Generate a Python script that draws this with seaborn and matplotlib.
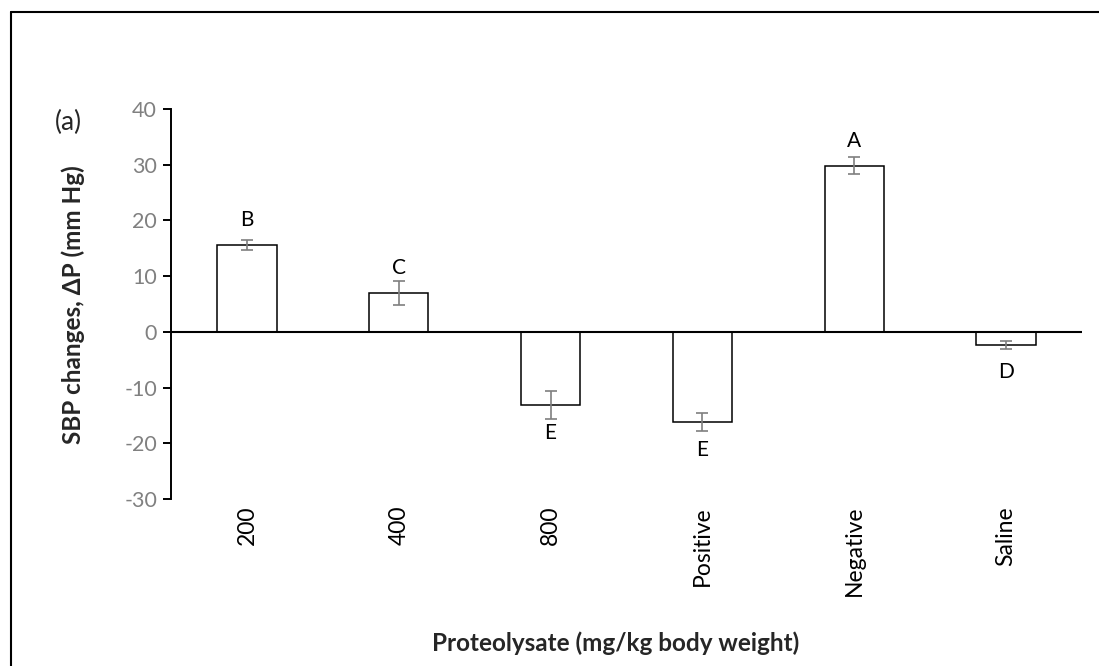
import matplotlib
matplotlib.use("Agg")
import matplotlib.pyplot as plt
import seaborn as sns
import pandas as pd
from matplotlib.lines import Line2D

categories = ["200", "400", "800", "Positive", "Negative", "Saline"]
values = [15.6, 6.9, -13.2, -16.2, 29.8, -2.3]
errors = [0.9, 2.15, 2.5, 1.6, 1.5, 0.7]
letters = ["B", "C", "E", "E", "A", "D"]
yticks = [-30, -20, -10, 0, 10, 20, 30, 40]

sns.set_theme(style="white")
plt.rcParams["font.family"] = ["Lato", "DejaVu Sans"]

fig = plt.figure(figsize=(10.99, 6.66), dpi=100)
ax = fig.add_axes([171 / 1099, 1 - 499 / 666, 911 / 1099, 390 / 666])

df = pd.DataFrame({"cat": categories, "val": values})
sns.barplot(data=df, x="cat", y="val", order=categories, color="white",
            edgecolor="black", linewidth=1.1, width=0.39, errorbar=None,
            saturation=1, ax=ax)
for p in ax.patches:
    p.set_facecolor("white")

xs = list(range(len(categories)))
ax.errorbar(xs, values, yerr=errors, fmt="none", ecolor="#7f7f7f",
            elinewidth=1.2, capsize=4.2, capthick=1.2, zorder=5)

ax.axhline(0, color="black", lw=1.5, zorder=4)

for x, v, lab in zip(xs, values, letters):
    off = 18 if v >= 0 else -20
    ax.annotate(lab, (x, v), xytext=(0, off), textcoords="offset points",
                ha="center", va="center", fontsize=15, color="black")

ax.set_xlim(-0.5, len(categories) - 0.5)
ax.set_ylim(-30, 40)
ax.set_yticks(yticks)
ax.set_yticklabels([str(t) for t in yticks])
ax.tick_params(axis="y", which="major", left=True, length=6, width=1.4,
               color="black", labelcolor="#808080", labelsize=15.5, pad=4)
ax.tick_params(axis="x", length=0, labelsize=16.5, labelcolor="black",
               pad=5, labelrotation=90)
ax.set_xlabel("")
ax.set_ylabel("")
for s in ["top", "right", "bottom"]:
    ax.spines[s].set_visible(False)
ax.spines["left"].set_color("black")
ax.spines["left"].set_linewidth(1.4)

fig.text(73 / 1099, 1 - 305 / 666, "SBP changes, ΔP (mm Hg)", rotation=90,
         ha="center", va="center", fontsize=17.5, fontweight="bold")
fig.text(616 / 1099, 1 - 643 / 666, "Proteolysate (mg/kg body weight)",
         ha="center", va="center", fontsize=17.5, fontweight="bold")
fig.text(68 / 1099, 1 - 122 / 666, "(a)", ha="center", va="center",
         fontsize=19)

fig.add_artist(Line2D([11 / 1099, 11 / 1099], [0, 1 - 12 / 666],
                      transform=fig.transFigure, color="black", lw=1.5))
fig.add_artist(Line2D([11 / 1099, 1.01], [1 - 12 / 666, 1 - 12 / 666],
                      transform=fig.transFigure, color="black", lw=1.5))

fig.savefig("out.png", dpi=100, facecolor="white")
